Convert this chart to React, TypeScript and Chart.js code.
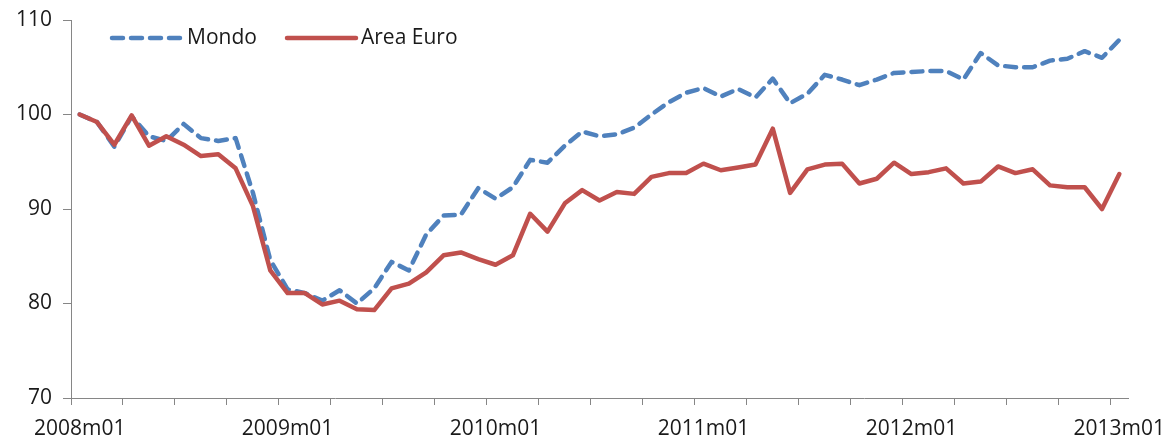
import React, { useEffect, useRef } from 'react';
import { Chart, registerables } from 'chart.js';

Chart.register(...registerables);

const categories = [
  '2008m01','2008m02','2008m03','2008m04','2008m05','2008m06','2008m07','2008m08','2008m09','2008m10','2008m11','2008m12',
  '2009m01','2009m02','2009m03','2009m04','2009m05','2009m06','2009m07','2009m08','2009m09','2009m10','2009m11','2009m12',
  '2010m01','2010m02','2010m03','2010m04','2010m05','2010m06','2010m07','2010m08','2010m09','2010m10','2010m11','2010m12',
  '2011m01','2011m02','2011m03','2011m04','2011m05','2011m06','2011m07','2011m08','2011m09','2011m10','2011m11','2011m12',
  '2012m01','2012m02','2012m03','2012m04','2012m05','2012m06','2012m07','2012m08','2012m09','2012m10','2012m11','2012m12',
  '2013m01',
];

const mondo = [
  100.0, 99.2, 96.6, 99.8, 97.7, 97.2, 99.0, 97.5, 97.2, 97.5, 91.7, 84.6,
  81.5, 81.1, 80.3, 81.4, 80.0, 81.6, 84.4, 83.5, 87.3, 89.3, 89.4, 92.2,
  91.1, 92.3, 95.2, 94.9, 96.7, 98.2, 97.7, 97.9, 98.6, 100.0, 101.3, 102.3,
  102.8, 101.9, 102.7, 101.8, 103.8, 101.2, 102.2, 104.2, 103.7, 103.1, 103.7, 104.4,
  104.5, 104.6, 104.6, 103.7, 106.5, 105.2, 105.0, 105.0, 105.7, 105.9, 106.7, 106.0,
  107.9,
];

const areaEuro = [
  100.0, 99.2, 96.8, 99.9, 96.7, 97.7, 96.8, 95.6, 95.8, 94.3, 90.3, 83.5,
  81.1, 81.1, 79.9, 80.3, 79.4, 79.3, 81.6, 82.1, 83.3, 85.1, 85.4, 84.7,
  84.1, 85.1, 89.5, 87.6, 90.6, 92.0, 90.9, 91.8, 91.6, 93.4, 93.8, 93.8,
  94.8, 94.1, 94.4, 94.7, 98.5, 91.7, 94.2, 94.7, 94.8, 92.7, 93.2, 94.9,
  93.7, 93.9, 94.3, 92.7, 92.9, 94.5, 93.8, 94.2, 92.5, 92.3, 92.3, 90.0,
  93.7,
];

const tickLabels = ['2008m01', '2009m01', '2010m01', '2011m01', '2012m01', '2013m01'];

const seriesNames = ['Mondo', 'Area Euro'];
const BLUE = '#4F81BD';
const RED = '#C0504D';
const AXIS = '#868686';
const TEXT = '#1a1a1a';
const FONT = "'Open Sans', sans-serif";

const legendPlugin = {
  id: 'customLegend',
  afterDraw(chart: any) {
    const ctx = chart.ctx;
    ctx.save();
    const y = 38;
    const items = [
      { x0: 112, x1: 182, tx: 187, color: BLUE, dash: [11, 8], text: seriesNames[0] },
      { x0: 287, x1: 356, tx: 361, color: RED, dash: [], text: seriesNames[1] },
    ];
    for (const it of items) {
      ctx.beginPath();
      ctx.lineWidth = 4.5;
      ctx.strokeStyle = it.color;
      ctx.lineCap = 'round';
      ctx.setLineDash(it.dash);
      ctx.moveTo(it.x0, y);
      ctx.lineTo(it.x1, y);
      ctx.stroke();
      ctx.setLineDash([]);
      ctx.fillStyle = TEXT;
      ctx.font = `21px ${FONT}`;
      ctx.textBaseline = 'middle';
      ctx.textAlign = 'left';
      ctx.fillText(it.text, it.tx, y);
    }
    ctx.restore();
  },
};

export default function App() {
  const ref = useRef<HTMLCanvasElement | null>(null);

  useEffect(() => {
    if (!ref.current) return;
    const n = categories.length;
    const boundaryTicks: number[] = [];
    for (let i = 0; i < n; i += 3) boundaryTicks.push(i);
    const labelTicks = tickLabels.map((l) => categories.indexOf(l) + 0.5);
    const allTicks = [...boundaryTicks, ...labelTicks].sort((a, b) => a - b);

    const chart = new Chart(ref.current, {
      type: 'line',
      data: {
        datasets: [
          {
            label: seriesNames[0],
            data: mondo.map((v, i) => ({ x: i + 0.5, y: v })),
            borderColor: BLUE,
            borderWidth: 4.5,
            borderDash: [11, 8],
            borderCapStyle: 'round',
            borderJoinStyle: 'round',
            pointRadius: 0,
            tension: 0,
            order: 1,
          },
          {
            label: seriesNames[1],
            data: areaEuro.map((v, i) => ({ x: i + 0.5, y: v })),
            borderColor: RED,
            borderWidth: 4.5,
            borderCapStyle: 'round',
            borderJoinStyle: 'round',
            pointRadius: 0,
            tension: 0,
            order: 0,
          },
        ],
      },
      options: {
        responsive: false,
        animation: false,
        devicePixelRatio: 1,
        layout: { padding: { left: 0, right: 40, top: 20, bottom: 0 } },
        plugins: { legend: { display: false }, tooltip: { enabled: false } },
        scales: {
          x: {
            type: 'linear',
            min: 0,
            max: n,
            afterBuildTicks: (s: any) => {
              s.ticks = allTicks.map((v) => ({ value: v }));
            },
            afterFit: (s: any) => {
              s.height = 40;
              s.paddingLeft = 0;
              s.paddingRight = 0;
            },
            ticks: {
              autoSkip: false,
              maxRotation: 0,
              minRotation: 0,
              padding: 11,
              color: TEXT,
              font: { family: FONT, size: 21 },
              callback: (value: any) => {
                const idx = tickLabels.findIndex((l) => categories.indexOf(l) + 0.5 === value);
                return idx >= 0 ? tickLabels[idx] : '';
              },
            },
            grid: {
              drawOnChartArea: false,
              drawTicks: true,
              tickLength: 7,
              tickColor: (c: any) => (Number.isInteger(c.tick?.value) ? AXIS : 'rgba(0,0,0,0)'),
              color: AXIS,
            },
            border: { display: true, color: AXIS, width: 1 },
          },
          y: {
            min: 70,
            max: 110,
            afterFit: (s: any) => {
              s.width = 71;
              s.paddingTop = 0;
              s.paddingBottom = 0;
            },
            ticks: {
              stepSize: 10,
              padding: 11,
              color: TEXT,
              font: { family: FONT, size: 21 },
            },
            grid: {
              drawOnChartArea: false,
              drawTicks: true,
              tickLength: 8,
              color: AXIS,
            },
            border: { display: true, color: AXIS, width: 1 },
          },
        },
      },
      plugins: [legendPlugin],
    } as any);
    return () => chart.destroy();
  }, []);

  return (
    <div style={{ position: 'absolute', left: 0, top: 0, width: 1168, height: 438, background: '#fff' }}>
      <canvas ref={ref} width={1168} height={438} style={{ display: 'block' }} />
    </div>
  );
}
